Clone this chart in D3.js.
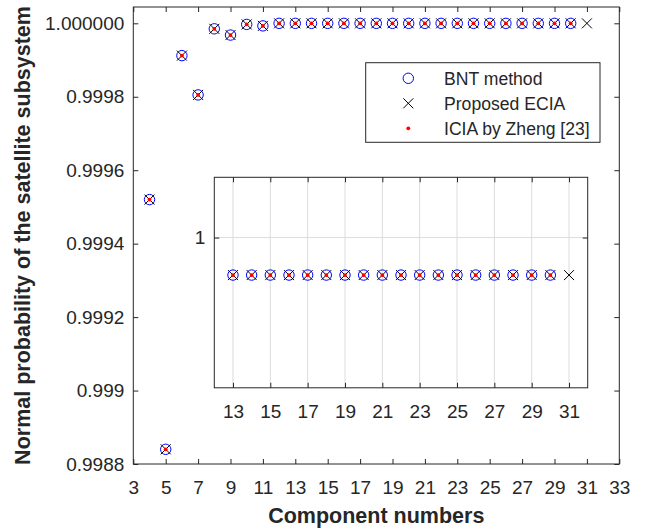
<!DOCTYPE html>
<html>
<head>
<meta charset="utf-8">
<script src="https://cdn.jsdelivr.net/npm/d3@7"></script>
<style>
body { margin: 0; background: white; }
text { font-family: "Liberation Sans", Arial, Helvetica, sans-serif; fill: #262626; }
</style>
</head>
<body>
<div class="chart"></div>
<script>
// data
var components = [4, 5, 6, 7, 8, 9, 10, 11, 12, 13, 14, 15, 16, 17, 18, 19, 20, 21, 22, 23, 24, 25, 26, 27, 28, 29, 30]
var bntValues = [0.99952, 0.99884, 0.999912, 0.999805, 0.999985, 0.999968, 0.999997, 0.999993,
    0.9999999, 0.9999999, 0.9999999, 0.9999999, 0.9999999, 0.9999999, 0.9999999, 0.9999999, 0.9999999,
    0.9999999, 0.9999999, 0.9999999, 0.9999999, 0.9999999, 0.9999999, 0.9999999, 0.9999999, 0.9999999, 0.9999999]
var eciaComponents = [4, 5, 6, 7, 8, 9, 10, 11, 12, 13, 14, 15, 16, 17, 18, 19, 20, 21, 22, 23, 24, 25, 26, 27, 28, 29, 30, 31]
var eciaValues = [0.99952, 0.99884, 0.999912, 0.999805, 0.999985, 0.999968, 0.999997, 0.999993,
    0.9999999, 0.9999999, 0.9999999, 0.9999999, 0.9999999, 0.9999999, 0.9999999, 0.9999999, 0.9999999,
    0.9999999, 0.9999999, 0.9999999, 0.9999999, 0.9999999, 0.9999999, 0.9999999, 0.9999999, 0.9999999, 0.9999999, 0.9999999]
var zhengValues = [0.99952, 0.99884, 0.999912, 0.999805, 0.999985, 0.999968, 0.999997, 0.999993,
    0.9999999, 0.9999999, 0.9999999, 0.9999999, 0.9999999, 0.9999999, 0.9999999, 0.9999999, 0.9999999,
    0.9999999, 0.9999999, 0.9999999, 0.9999999, 0.9999999, 0.9999999, 0.9999999, 0.9999999, 0.9999999, 0.9999999]

var xTicks = [3, 5, 7, 9, 11, 13, 15, 17, 19, 21, 23, 25, 27, 29, 31, 33]
var yTicks = [0.9988, 0.999, 0.9992, 0.9994, 0.9996, 0.9998, 1]
var yTickLabels = ["0.9988", "0.999", "0.9992", "0.9994", "0.9996", "0.9998", "1.000000"]
var insetXTicks = [13, 15, 17, 19, 21, 23, 25, 27, 29, 31]
var insetYTicks = [1]
var insetYTickLabels = ["1"]
var insetFirstComponent = 13
var legendNames = ["BNT method", "Proposed ECIA", "ICIA by Zheng [23]"]

var bnt = components.map(function(c, i) { return {x: c, y: bntValues[i]} })
var ecia = eciaComponents.map(function(c, i) { return {x: c, y: eciaValues[i]} })
var zheng = components.map(function(c, i) { return {x: c, y: zhengValues[i]} })

var axisColor = "#262626"

var svg = d3.select(".chart")
    .append("svg")
    .attr("width", 646)
    .attr("height", 528)

var margin = {left: 133.3, top: 7, right: 619.3, bottom: 464}
var w = margin.right - margin.left
var h = margin.bottom - margin.top

var x = d3.scaleLinear().domain([3, 33]).range([0, w])
var y = d3.scaleLinear().domain([0.9988, 1.0000444]).range([h, 0])

var main = svg.append("g")
    .attr("transform", "translate(" + margin.left + "," + margin.top + ")")

main.append("rect")
    .attr("width", w)
    .attr("height", h)
    .attr("fill", "white")

function styleAxis(g) {
    g.select(".domain").remove()
    g.selectAll(".tick line").attr("stroke", axisColor)
    g.selectAll(".tick text")
        .style("font-size", "19px")
        .style("font-family", "'Liberation Sans', Arial, sans-serif")
        .attr("fill", axisColor)
}

main.append("g")
    .attr("transform", "translate(0," + h + ")")
    .call(d3.axisBottom(x).tickValues(xTicks).tickSize(-5).tickPadding(16.5).tickFormat(d3.format("d")))
    .call(styleAxis)

main.append("g")
    .call(d3.axisTop(x).tickValues(xTicks).tickSize(-5).tickFormat(""))
    .call(styleAxis)

main.append("g")
    .call(d3.axisLeft(y).tickValues(yTicks).tickSize(-5).tickPadding(9)
        .tickFormat(function(d, i) { return yTickLabels[i] }))
    .call(styleAxis)

main.append("g")
    .attr("transform", "translate(" + w + ",0)")
    .call(d3.axisRight(y).tickValues(yTicks).tickSize(-5).tickFormat(""))
    .call(styleAxis)

main.append("rect")
    .attr("width", w)
    .attr("height", h)
    .attr("fill", "none")
    .attr("stroke", axisColor)
    .attr("stroke-width", 1)

function drawMarkers(g, xs, ys, minX) {
    g.selectAll(".bntMark")
        .data(bnt.filter(function(d) { return d.x >= minX }))
        .enter().append("circle")
        .attr("class", "bntMark")
        .attr("cx", function(d) { return xs(d.x) })
        .attr("cy", function(d) { return ys(d.y) })
        .attr("r", 5.2)
        .attr("fill", "none")
        .attr("stroke", "#0000ff")
        .attr("stroke-width", 1)

    g.selectAll(".eciaMark")
        .data(ecia.filter(function(d) { return d.x >= minX }))
        .enter().append("path")
        .attr("class", "eciaMark")
        .attr("transform", function(d) { return "translate(" + xs(d.x) + "," + ys(d.y) + ")" })
        .attr("d", "M-5,-5L5,5M-5,5L5,-5")
        .attr("stroke", "black")
        .attr("stroke-width", 1)

    g.selectAll(".zhengMark")
        .data(zheng.filter(function(d) { return d.x >= minX }))
        .enter().append("circle")
        .attr("class", "zhengMark")
        .attr("cx", function(d) { return xs(d.x) })
        .attr("cy", function(d) { return ys(d.y) })
        .attr("r", 1.9)
        .attr("fill", "#ff0000")
}

drawMarkers(main, x, y, 0)

// x label
svg.append("text")
    .attr("x", margin.left + w / 2)
    .attr("y", 523)
    .attr("text-anchor", "middle")
    .style("font-size", "21.5px")
    .style("font-weight", "bold")
    .text("Component numbers")

// y label
svg.append("text")
    .attr("transform", "translate(29.5," + (margin.top + h / 2) + ") rotate(-90)")
    .attr("text-anchor", "middle")
    .style("font-size", "21.5px")
    .style("font-weight", "bold")
    .text("Normal probability of the satellite subsystem")

// legend
var legend = svg.append("g")
    .attr("transform", "translate(365.7,62.7)")

legend.append("rect")
    .attr("width", 234.3)
    .attr("height", 79.6)
    .attr("fill", "white")
    .attr("stroke", axisColor)
    .attr("stroke-width", 1)

var legendItem = legend.selectAll(".legendItem")
    .data(legendNames)
    .enter().append("g")
    .attr("class", "legendItem")
    .attr("transform", function(d, i) {
        return "translate(0," + (15.6 + i * 25) + ")"
    })

legendItem.append("text")
    .attr("x", 78.3)
    .attr("y", 6.2)
    .style("font-size", "17.6px")
    .attr("fill", "black")
    .text(function(d) { return d })

legendItem.filter(function(d, i) { return i === 0 })
    .append("circle")
    .attr("cx", 42.6)
    .attr("r", 5.2)
    .attr("fill", "none")
    .attr("stroke", "#0000ff")

legendItem.filter(function(d, i) { return i === 1 })
    .append("path")
    .attr("transform", "translate(42.6,0)")
    .attr("d", "M-5,-5L5,5M-5,5L5,-5")
    .attr("stroke", "black")

legendItem.filter(function(d, i) { return i === 2 })
    .append("circle")
    .attr("cx", 42.6)
    .attr("r", 1.9)
    .attr("fill", "#ff0000")

// inset
var inset = {left: 214.3, top: 177.3, right: 587.7, bottom: 387.8}
var iw = inset.right - inset.left
var ih = inset.bottom - inset.top

var xi = d3.scaleLinear().domain([12, 32]).range([0, iw])
var yi = d3.scaleLinear().domain([0.99999959946, 1.00000016064]).range([ih, 0])

var ig = svg.append("g")
    .attr("transform", "translate(" + inset.left + "," + inset.top + ")")

ig.append("rect")
    .attr("width", iw)
    .attr("height", ih)
    .attr("fill", "white")

ig.selectAll(".vgrid")
    .data(insetXTicks)
    .enter().append("line")
    .attr("class", "vgrid")
    .attr("x1", function(d) { return xi(d) })
    .attr("x2", function(d) { return xi(d) })
    .attr("y1", 0)
    .attr("y2", ih)
    .attr("stroke", "#dcdcdc")

ig.selectAll(".hgrid")
    .data(insetYTicks)
    .enter().append("line")
    .attr("class", "hgrid")
    .attr("x1", 0)
    .attr("x2", iw)
    .attr("y1", function(d) { return yi(d) })
    .attr("y2", function(d) { return yi(d) })
    .attr("stroke", "#dcdcdc")

ig.append("g")
    .attr("transform", "translate(0," + ih + ")")
    .call(d3.axisBottom(xi).tickValues(insetXTicks).tickSize(-5).tickPadding(16.5).tickFormat(d3.format("d")))
    .call(styleAxis)

ig.append("g")
    .call(d3.axisTop(xi).tickValues(insetXTicks).tickSize(-5).tickFormat(""))
    .call(styleAxis)

ig.append("g")
    .call(d3.axisLeft(yi).tickValues(insetYTicks).tickSize(-5).tickPadding(9)
        .tickFormat(function(d, i) { return insetYTickLabels[i] }))
    .call(styleAxis)

ig.append("g")
    .attr("transform", "translate(" + iw + ",0)")
    .call(d3.axisRight(yi).tickValues(insetYTicks).tickSize(-5).tickFormat(""))
    .call(styleAxis)

ig.append("rect")
    .attr("width", iw)
    .attr("height", ih)
    .attr("fill", "none")
    .attr("stroke", axisColor)

drawMarkers(ig, xi, yi, insetFirstComponent)
</script>
</body>
</html>
